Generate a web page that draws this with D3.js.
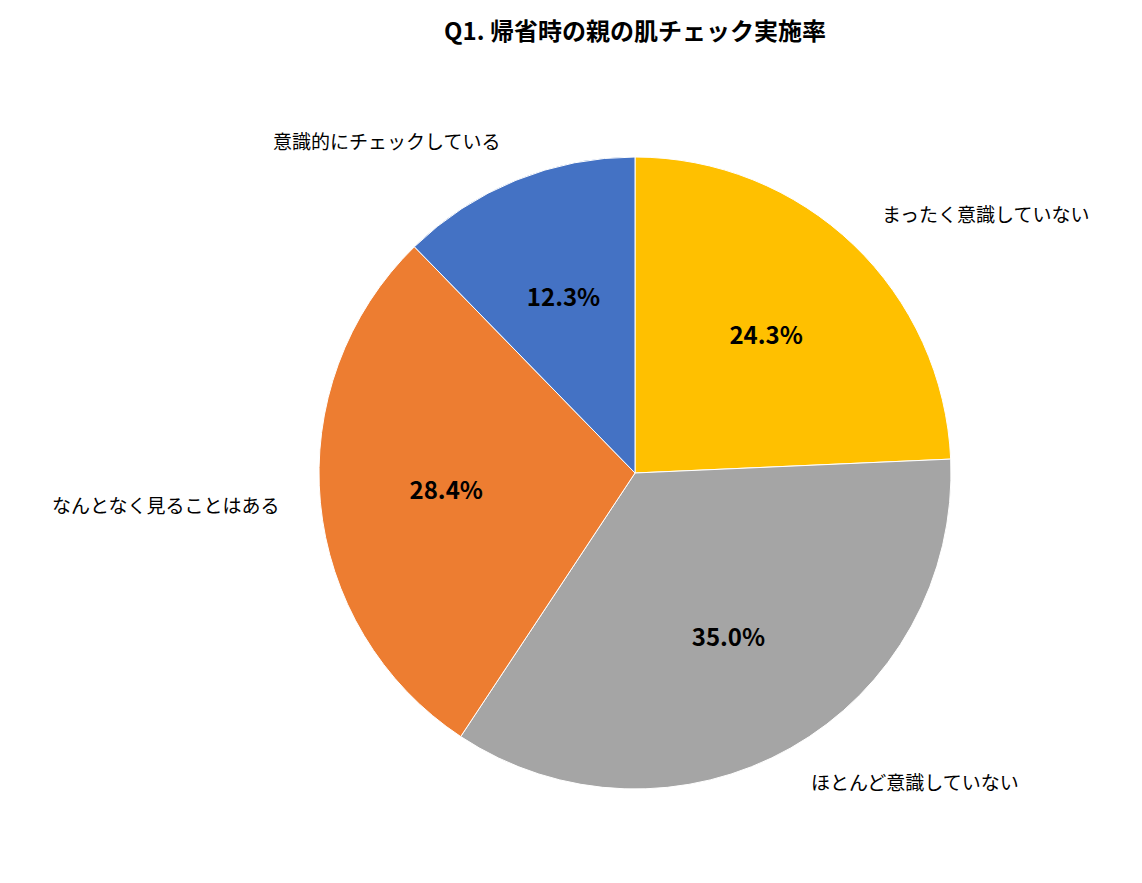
<!DOCTYPE html>
<meta charset="utf-8">
<html>
<head>
<script src="https://cdn.jsdelivr.net/npm/d3@7"></script>
<style>
  body { margin: 0; background: #fff; }
  svg { font-family: "Noto Sans CJK JP", sans-serif; }
</style>
</head>
<body>
<svg width="1142" height="883"></svg>
<script>
const categories = ["まったく意識していない", "ほとんど意識していない", "なんとなく見ることはある", "意識的にチェックしている"];
const values = [24.3, 35.0, 28.4, 12.3];
const colors = ["#FFC000", "#A5A5A5", "#ED7D31", "#4472C4"];

const svg = d3.select("svg");
const cx = 635, cy = 473, R = 316;

svg.append("text")
  .attr("x", 635).attr("y", 40)
  .attr("text-anchor", "middle")
  .style("font-size", "24px").style("font-weight", "bold")
  .text("Q1. 帰省時の親の肌チェック実施率");

const pie = d3.pie().sort(null).value(d => d);
const arcs = pie(values);
const arc = d3.arc().innerRadius(0).outerRadius(R);
const inner = d3.arc().innerRadius(R * 0.6).outerRadius(R * 0.6);
const outer = d3.arc().innerRadius(R * 1.13).outerRadius(R * 1.13);

const g = svg.append("g").attr("transform", `translate(${cx},${cy})`);

g.selectAll("path").data(arcs).enter().append("path")
  .attr("d", arc)
  .attr("fill", (d, i) => colors[i])
  .attr("stroke", "#fff").attr("stroke-width", 1);

g.selectAll("text.pct").data(arcs).enter().append("text")
  .attr("class", "pct")
  .attr("transform", d => `translate(${inner.centroid(d)})`)
  .attr("text-anchor", "middle").attr("dy", "0.35em")
  .style("font-size", "24px").style("font-weight", "bold")
  .text(d => d.data.toFixed(1) + "%");

g.selectAll("text.cat").data(arcs).enter().append("text")
  .attr("class", "cat")
  .attr("transform", d => `translate(${outer.centroid(d)})`)
  .attr("text-anchor", d => (d.startAngle + d.endAngle) / 2 < Math.PI ? "start" : "end")
  .attr("dy", "0.35em")
  .style("font-size", "19px")
  .text((d, i) => categories[i]);
</script>
</body>
</html>
